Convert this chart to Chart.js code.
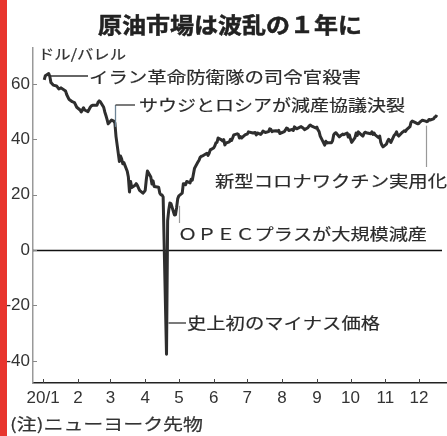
<!DOCTYPE html>
<html>
<head>
<meta charset="utf-8">
<script src="https://cdn.jsdelivr.net/npm/chart.js@4.4.1/dist/chart.umd.min.js"></script>
<style>
html,body{margin:0;padding:0;background:#fff;}
canvas{display:block;}
</style>
</head>
<body>
<canvas id="c" width="447" height="436"></canvas>
<script>
// ---- data (NY crude futures, USD/barrel, 2020) ----
const dates = [
'2020-01-02','2020-01-03','2020-01-06','2020-01-07','2020-01-08','2020-01-10','2020-01-13','2020-01-15','2020-01-17','2020-01-21',
'2020-01-22','2020-01-24','2020-01-27','2020-01-29','2020-01-31','2020-02-03','2020-02-04','2020-02-06','2020-02-07','2020-02-10',
'2020-02-12','2020-02-13','2020-02-14','2020-02-18','2020-02-19','2020-02-20','2020-02-21','2020-02-24','2020-02-25','2020-02-26',
'2020-02-27','2020-02-28','2020-03-02','2020-03-03','2020-03-04','2020-03-05','2020-03-06','2020-03-09','2020-03-10','2020-03-11',
'2020-03-12','2020-03-13','2020-03-16','2020-03-17','2020-03-18','2020-03-19','2020-03-20','2020-03-23','2020-03-24','2020-03-25',
'2020-03-26','2020-03-27','2020-03-30','2020-03-31','2020-04-01','2020-04-02','2020-04-03','2020-04-06','2020-04-07','2020-04-08',
'2020-04-09','2020-04-13','2020-04-14','2020-04-15','2020-04-16','2020-04-17','2020-04-20','2020-04-21','2020-04-22','2020-04-23',
'2020-04-24','2020-04-27','2020-04-28','2020-04-29','2020-04-30','2020-05-01','2020-05-04','2020-05-05','2020-05-06','2020-05-07',
'2020-05-08','2020-05-11','2020-05-12','2020-05-13','2020-05-14','2020-05-15','2020-05-18','2020-05-19','2020-05-20','2020-05-21',
'2020-05-22','2020-05-26','2020-05-27','2020-05-28','2020-05-29','2020-06-01','2020-06-02','2020-06-03','2020-06-04','2020-06-05',
'2020-06-08','2020-06-09','2020-06-10','2020-06-11','2020-06-12','2020-06-15','2020-06-16','2020-06-17','2020-06-18','2020-06-19',
'2020-06-22','2020-06-23','2020-06-24','2020-06-25','2020-06-26','2020-06-29','2020-06-30','2020-07-01','2020-07-02','2020-07-06',
'2020-07-07','2020-07-08','2020-07-09','2020-07-10','2020-07-13','2020-07-14','2020-07-15','2020-07-16','2020-07-17','2020-07-20',
'2020-07-21','2020-07-22','2020-07-23','2020-07-24','2020-07-27','2020-07-28','2020-07-29','2020-07-30','2020-07-31','2020-08-03',
'2020-08-04','2020-08-05','2020-08-06','2020-08-07','2020-08-10','2020-08-11','2020-08-12','2020-08-13','2020-08-14','2020-08-17',
'2020-08-18','2020-08-19','2020-08-20','2020-08-21','2020-08-24','2020-08-25','2020-08-26','2020-08-27','2020-08-28','2020-08-31',
'2020-09-01','2020-09-02','2020-09-03','2020-09-04','2020-09-08','2020-09-09','2020-09-10','2020-09-11','2020-09-14','2020-09-15',
'2020-09-16','2020-09-17','2020-09-18','2020-09-21','2020-09-22','2020-09-23','2020-09-24','2020-09-25','2020-09-28','2020-09-29',
'2020-09-30','2020-10-01','2020-10-02','2020-10-05','2020-10-06','2020-10-07','2020-10-08','2020-10-09','2020-10-12','2020-10-13',
'2020-10-14','2020-10-15','2020-10-16','2020-10-19','2020-10-20','2020-10-21','2020-10-22','2020-10-23','2020-10-26','2020-10-27',
'2020-10-28','2020-10-29','2020-10-30','2020-11-02','2020-11-03','2020-11-04','2020-11-05','2020-11-06','2020-11-09','2020-11-10',
'2020-11-11','2020-11-12','2020-11-13','2020-11-16','2020-11-17','2020-11-18','2020-11-19','2020-11-20','2020-11-23','2020-11-24',
'2020-11-25','2020-11-27','2020-11-30','2020-12-01','2020-12-02','2020-12-03','2020-12-04','2020-12-07','2020-12-08','2020-12-09',
'2020-12-10','2020-12-11','2020-12-14','2020-12-15','2020-12-16','2020-12-17'
];
const prices = [
61.5,63.0,63.8,62.7,60.5,59.6,59.3,58.2,58.6,57.5,
56.2,54.5,53.6,53.3,51.6,50.6,49.9,51.4,50.6,50.0,
51.6,52.1,52.3,52.3,53.4,53.9,53.6,51.6,49.9,48.6,
47.2,45.6,47.0,46.8,46.6,45.9,41.0,32.0,34.0,33.0,
31.2,31.6,28.5,26.4,21.0,24.8,22.6,23.4,24.0,23.4,
22.5,21.6,20.6,21.0,21.6,25.5,28.6,26.4,23.9,25.0,
23.0,22.7,20.6,20.0,19.9,19.2,-37.6,10.6,14.5,17.0,
16.8,12.7,12.8,15.4,18.6,19.6,20.6,24.0,24.0,23.6,
24.8,24.3,25.6,25.3,27.5,29.6,31.8,32.5,33.5,33.9,
34.0,35.0,34.2,35.0,36.2,36.9,37.6,38.7,38.9,40.5,
39.8,39.4,39.9,38.0,38.7,39.1,40.0,39.6,40.6,41.6,
42.0,41.8,40.5,41.0,40.5,41.6,41.8,41.9,42.7,42.3,
42.4,42.5,41.6,42.3,41.8,42.3,43.0,42.7,42.5,42.8,
43.8,43.6,42.8,43.0,43.1,42.9,43.3,42.1,42.3,42.8,
43.4,44.1,43.9,43.2,43.6,43.2,44.5,44.2,43.8,44.4,
44.6,44.3,44.0,43.5,44.2,44.8,45.2,44.9,44.7,44.1,
44.4,43.4,42.8,41.2,37.9,39.3,38.7,38.8,38.8,39.5,
41.6,42.2,42.4,40.9,41.3,41.6,41.9,41.7,42.3,40.8,
41.6,40.2,38.9,40.6,42.3,41.4,42.7,42.2,41.2,42.1,
42.6,42.4,42.3,42.0,42.7,41.8,42.3,41.6,40.6,41.2,
38.9,37.9,37.3,38.3,39.3,40.0,39.6,38.9,41.5,41.9,
42.7,41.6,41.2,42.5,42.8,43.1,42.9,43.5,44.6,46.2,
46.6,46.2,45.6,45.8,46.3,46.6,46.9,46.6,46.4,46.6,
47.2,47.0,47.4,48.0,48.2,48.8
];
const monthTickDates = ['2020-01-01','2020-02-01','2020-03-01','2020-04-01','2020-05-01','2020-06-01',
  '2020-07-01','2020-08-01','2020-09-01','2020-10-01','2020-11-01','2020-12-01'];
const monthLabels = ['20/1','2','3','4','5','6','7','8','9','10','11','12'];
const yTicks = [-40,-20,0,20,40,60];

const titleText = '原油市場は波乱の１年に';
const unitText = 'ドル/バレル';
const noteText = '(注)ニューヨーク先物';
const noteIran = 'イラン革命防衛隊の司令官殺害';
const noteSaudi = 'サウジとロシアが減産協議決裂';
const noteVaccine = '新型コロナワクチン実用化';
const noteOpec = 'ＯＰＥＣプラスが大規模減産';
const noteNegative = '史上初のマイナス価格';

// ---- helpers ----
const T0 = Date.UTC(2020,0,1);
function dayOf(s){ const p = s.split('-').map(Number); return (Date.UTC(p[0],p[1]-1,p[2]) - T0)/86400000; }
const points = dates.map((d,i)=>({x: dayOf(d), y: prices[i]}));
const monthTicks = monthTickDates.map(dayOf);

const JP = '"Noto Sans CJK JP", "Noto Sans CJK SC", sans-serif';
function wideText(ctx, str, x, y, size, width, weight, color, stroke){
  ctx.save();
  ctx.font = (weight||400) + ' ' + size + 'px ' + JP;
  const w = ctx.measureText(str).width;
  ctx.translate(x, y);
  ctx.scale(width / w, 1);
  ctx.textBaseline = 'middle';
  ctx.textAlign = 'left';
  ctx.fillStyle = color || '#2a2a2a';
  ctx.fillText(str, 0, 0);
  const sw = stroke === undefined ? 0.2 : stroke;
  if (sw > 0){ ctx.strokeStyle = color || '#2a2a2a'; ctx.lineWidth = sw; ctx.strokeText(str, 0, 0); }
  ctx.restore();
}
function line(ctx, x1, y1, x2, y2, color, w){
  ctx.save();
  ctx.strokeStyle = color; ctx.lineWidth = w;
  ctx.beginPath(); ctx.moveTo(x1,y1); ctx.lineTo(x2,y2); ctx.stroke();
  ctx.restore();
}

const decor = {
  id: 'decor',
  beforeDatasetsDraw(chart){
    const {ctx, scales:{x, y}, chartArea:a} = chart;
    const y0 = Math.round(y.getPixelForValue(0)) + 0.5;
    line(ctx, a.left, y0, a.right - 5, y0, '#111', 1.5);
    yTicks.forEach(v => { const py = Math.round(y.getPixelForValue(v)) + 0.5; line(ctx, a.left, py, a.left + 4, py, '#888', 1); });
    monthTicks.forEach(v => { const px = Math.round(x.getPixelForValue(v)) + 0.5; line(ctx, px, a.bottom, px, a.bottom - 4, '#444', 1); });
  },
  afterDraw(chart){
    const {ctx, scales:{x, y}} = chart;
    const px = s => x.getPixelForValue(dayOf(s));
    const py = v => y.getPixelForValue(v);
    wideText(ctx, titleText, 98, 25, 22, 264, 700, '#222', 0.5);
    wideText(ctx, unitText, 38, 54, 14, 88, 400, '#333', 0.2);
    wideText(ctx, noteText, 10, 424, 16, 193, 400, '#333', 0.2);
    // Iran
    line(ctx, px('2020-01-07') + 1, 76, 88, 76, '#333', 1.3);
    wideText(ctx, noteIran, 89, 77, 16, 272);
    // Saudi / Russia
    const xs = Math.round(px('2020-03-06')) - 0.5;
    line(ctx, xs, 105, xs, py(44.5), '#6d8496', 1.3);
    line(ctx, xs, 105, 135, 105, '#333', 1.3);
    wideText(ctx, noteSaudi, 139, 105, 16, 266);
    // Vaccine
    const xv = Math.round(px('2020-12-08')) - 0.5;
    line(ctx, xv, py(46.4) + 4, xv, 167, '#999', 1.2);
    wideText(ctx, noteVaccine, 215, 181, 16, 232);
    // OPEC+
    const xo = Math.round(px('2020-05-01')) + 0.5;
    line(ctx, xo, py(19.6) + 10, xo, 223, '#999', 1.2);
    wideText(ctx, noteOpec, 178, 234, 16, 249);
    // negative price
    line(ctx, px('2020-04-20') + 2, 323, 186, 323, '#333', 1.3);
    wideText(ctx, noteNegative, 187, 323, 16, 193);
    // red edge stripe
    ctx.save(); ctx.fillStyle = '#e8352e'; ctx.fillRect(0, 0, 7, 436); ctx.restore();
  }
};

const tickFont = {family: '"Liberation Sans", Arial, sans-serif', size: 17};

new Chart(document.getElementById('c'), {
  type: 'line',
  data: {
    datasets: [{
      data: points,
      borderColor: '#2e2e2e',
      borderWidth: 3,
      pointRadius: 0,
      tension: 0,
      borderJoinStyle: 'round'
    }]
  },
  options: {
    responsive: false,
    animation: false,
    events: [],
    layout: {padding: {left: 0, right: 0, top: 48, bottom: 25}},
    plugins: {legend: {display: false}, tooltip: {enabled: false}, title: {display: false}},
    scales: {
      x: {
        type: 'linear', min: -9, max: 360,
        grid: {display: false, drawTicks: false},
        border: {display: true, color: '#222', width: 1.5},
        afterBuildTicks: s => { s.ticks = monthTicks.map(v => ({value: v})); },
        afterFit: s => { s.height = 28; },
        ticks: {callback: (v, i) => monthLabels[i], padding: 5, font: tickFont, color: '#333', autoSkip: false, maxRotation: 0}
      },
      y: {
        min: -48, max: 73,
        grid: {display: false, drawTicks: false},
        border: {display: true, color: '#999', width: 1.5},
        afterBuildTicks: s => { s.ticks = yTicks.map(v => ({value: v})); },
        afterFit: s => { s.width = 33; },
        ticks: {padding: 3, font: tickFont, color: '#333'}
      }
    }
  },
  plugins: [decor]
});
</script>
</body>
</html>
